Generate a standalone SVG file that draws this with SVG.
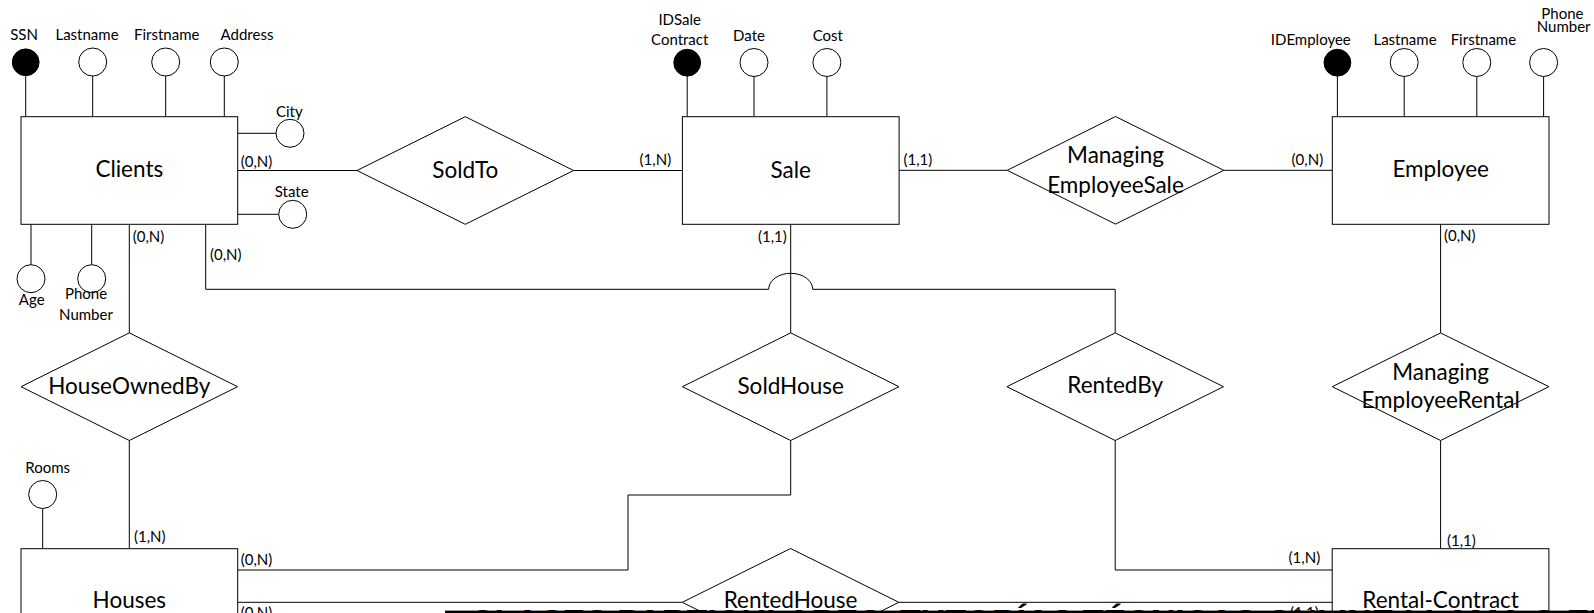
<svg xmlns="http://www.w3.org/2000/svg" width="1594" height="613" viewBox="0 0 1594 613">
<style>
  .ent{fill:#fff;stroke:#000;stroke-width:1}
  .rel{fill:#fff;stroke:#000;stroke-width:1}
  .att{fill:#fff;stroke:#000;stroke-width:1}
  .key{fill:#000;stroke:#000;stroke-width:1}
  .ln{fill:none;stroke:#000;stroke-width:1}
  .big{font-family:Lato,"Open Sans",sans-serif;font-size:22.5px;fill:#000;text-anchor:middle}
  .sm{font-family:Lato,"Open Sans",sans-serif;font-size:15px;fill:#000;text-anchor:middle}
  .card{font-family:Lato,"Open Sans",sans-serif;font-size:15px;fill:#000}
  .wm{font-family:"Liberation Sans",Arial,sans-serif;font-size:34px;font-weight:bold;fill:#000}
</style>
<rect x="0" y="0" width="1594" height="613" fill="#fff"/>

<g id="connectors">
  <line class="ln" x1="237.7" y1="170.5" x2="357" y2="170.5"/>
  <line class="ln" x1="573.6" y1="170.5" x2="682.4" y2="170.5"/>
  <line class="ln" x1="899" y1="170.3" x2="1007.2" y2="170.3"/>
  <line class="ln" x1="1223.8" y1="170.3" x2="1332.3" y2="170.3"/>
  <line class="ln" x1="129.3" y1="224.3" x2="129.3" y2="332.9"/>
  <line class="ln" x1="129.3" y1="440.5" x2="129.3" y2="548.7"/>
  <line class="ln" x1="790.7" y1="224.3" x2="790.7" y2="332.9"/>
  <path class="ln" d="M205.7,224.3 V289.3 H768.7 A22,16 0 0 1 812.7,289.3 H1115.2 V332.9"/>
  <line class="ln" x1="1440.6" y1="224.3" x2="1440.6" y2="332.9"/>
  <line class="ln" x1="1440.6" y1="440.5" x2="1440.6" y2="548.7"/>
  <path class="ln" d="M1115.2,440.5 V570 H1332.2"/>
  <path class="ln" d="M790.7,440.5 V495 H628 V570 H237.7"/>
  <line class="ln" x1="237.7" y1="602.3" x2="682.3" y2="602.3"/>
  <line class="ln" x1="898.9" y1="602.3" x2="1332.2" y2="602.3"/>
  <!-- attribute stems -->
  <line class="ln" x1="25.7" y1="75.7" x2="25.7" y2="116.7"/>
  <line class="ln" x1="92.7" y1="76" x2="92.7" y2="116.7"/>
  <line class="ln" x1="165.7" y1="76" x2="165.7" y2="116.7"/>
  <line class="ln" x1="224.3" y1="76" x2="224.3" y2="116.7"/>
  <line class="ln" x1="237.7" y1="133.3" x2="276" y2="133.3"/>
  <line class="ln" x1="237.7" y1="214.3" x2="278.7" y2="214.3"/>
  <line class="ln" x1="31" y1="224.3" x2="31" y2="264.7"/>
  <line class="ln" x1="91.7" y1="224.3" x2="91.7" y2="264.7"/>
  <line class="ln" x1="687.2" y1="76" x2="687.2" y2="116.7"/>
  <line class="ln" x1="754" y1="76.5" x2="754" y2="116.7"/>
  <line class="ln" x1="826.9" y1="76.5" x2="826.9" y2="116.7"/>
  <line class="ln" x1="1337.4" y1="76" x2="1337.4" y2="116.7"/>
  <line class="ln" x1="1404.2" y1="76.5" x2="1404.2" y2="116.7"/>
  <line class="ln" x1="1476.8" y1="76.5" x2="1476.8" y2="116.7"/>
  <line class="ln" x1="1543.6" y1="76.5" x2="1543.6" y2="116.7"/>
  <line class="ln" x1="42.7" y1="508.5" x2="42.7" y2="548.7"/>
</g>

<g id="clients">
  <rect class="ent" x="21" y="116.7" width="216.7" height="107.6"/>
  <text class="big" x="129.3" y="176.7">Clients</text>
  <circle class="key" cx="25.7" cy="62.3" r="13.4"/>
  <circle class="att" cx="92.7" cy="62" r="14"/>
  <circle class="att" cx="165.7" cy="62" r="14"/>
  <circle class="att" cx="224.3" cy="62" r="14"/>
  <circle class="att" cx="290" cy="133.3" r="14"/>
  <circle class="att" cx="292.7" cy="214.3" r="14"/>
  <circle class="att" cx="31" cy="278.7" r="14"/>
  <circle class="att" cx="91.7" cy="278.7" r="14"/>
  <text class="sm" x="24" y="40">SSN</text>
  <text class="sm" x="87" y="40">Lastname</text>
  <text class="sm" x="166.7" y="40">Firstname</text>
  <text class="sm" x="247" y="40">Address</text>
  <text class="sm" x="289.3" y="117.3">City</text>
  <text class="sm" x="291.7" y="196.7">State</text>
  <text class="sm" x="31.7" y="305">Age</text>
  <text class="sm" x="86" y="299.3">Phone</text>
  <text class="sm" x="86" y="320">Number</text>
</g>

<g id="soldto">
  <polygon class="rel" points="357,170.5 465.3,116.7 573.6,170.5 465.3,224.3"/>
  <text class="big" x="465.3" y="178">SoldTo</text>
</g>

<g id="sale">
  <rect class="ent" x="682.4" y="116.7" width="216.7" height="107.6"/>
  <text class="big" x="790.7" y="178">Sale</text>
  <circle class="key" cx="687.2" cy="62.7" r="13.4"/>
  <circle class="att" cx="754" cy="62.5" r="14"/>
  <circle class="att" cx="826.9" cy="62.5" r="14"/>
  <text class="sm" x="679.7" y="25">IDSale</text>
  <text class="sm" x="679.7" y="45">Contract</text>
  <text class="sm" x="749" y="40.7">Date</text>
  <text class="sm" x="827.8" y="40.7">Cost</text>
</g>

<g id="managing-employee-sale">
  <polygon class="rel" points="1007.2,170.3 1115.5,116.5 1223.8,170.3 1115.5,224.1"/>
  <text class="big" x="1115.5" y="163.3">Managing</text>
  <text class="big" x="1115.5" y="193.3">EmployeeSale</text>
</g>

<g id="employee">
  <rect class="ent" x="1332.3" y="116.7" width="216.7" height="107.6"/>
  <text class="big" x="1440.7" y="176.7">Employee</text>
  <circle class="key" cx="1337.4" cy="62.7" r="13.4"/>
  <circle class="att" cx="1404.2" cy="62.5" r="14"/>
  <circle class="att" cx="1476.8" cy="62.5" r="14"/>
  <circle class="att" cx="1543.6" cy="62.5" r="14"/>
  <text class="sm" x="1310.8" y="45">IDEmployee</text>
  <text class="sm" x="1405" y="45">Lastname</text>
  <text class="sm" x="1483.4" y="45">Firstname</text>
  <text class="sm" x="1562.4" y="19.3">Phone</text>
  <text class="sm" x="1563.7" y="31.7">Number</text>
</g>

<g id="houseownedby">
  <polygon class="rel" points="21,386.7 129.3,332.9 237.6,386.7 129.3,440.5"/>
  <text class="big" x="129.3" y="394">HouseOwnedBy</text>
</g>

<g id="soldhouse">
  <polygon class="rel" points="682.4,386.7 790.7,332.9 899,386.7 790.7,440.5"/>
  <text class="big" x="790.7" y="394">SoldHouse</text>
</g>

<g id="rentedby">
  <polygon class="rel" points="1006.9,386.7 1115.2,332.9 1223.5,386.7 1115.2,440.5"/>
  <text class="big" x="1115.2" y="393.3">RentedBy</text>
</g>

<g id="managing-employee-rental">
  <polygon class="rel" points="1332.3,386.7 1440.6,332.9 1548.9,386.7 1440.6,440.5"/>
  <text class="big" x="1440.6" y="380">Managing</text>
  <text class="big" x="1440.6" y="408.3">EmployeeRental</text>
</g>

<g id="houses">
  <rect class="ent" x="21" y="548.7" width="216.7" height="107.6"/>
  <text class="big" x="129.3" y="608.3">Houses</text>
  <circle class="att" cx="42.7" cy="494.5" r="14"/>
  <text class="sm" x="47.7" y="472.7">Rooms</text>
</g>

<g id="rentedhouse">
  <polygon class="rel" points="682.3,602.3 790.6,548.5 898.9,602.3 790.6,656.1"/>
  <text class="big" x="790.6" y="608.3">RentedHouse</text>
</g>

<g id="rental-contract">
  <rect fill="none" stroke="#000" stroke-width="1" x="1332.2" y="548.7" width="216.7" height="107.6"/>
  <text class="big" x="1440.6" y="608.3">Rental-Contract</text>
</g>

<g id="cardinalities">
  <text class="card" x="240.7" y="166.7">(0,N)</text>
  <text class="card" x="132.7" y="241.7">(0,N)</text>
  <text class="card" x="210" y="260">(0,N)</text>
  <text class="card" x="639.6" y="165">(1,N)</text>
  <text class="card" x="758" y="241.7">(1,1)</text>
  <text class="card" x="903.5" y="165">(1,1)</text>
  <text class="card" x="1291.6" y="165">(0,N)</text>
  <text class="card" x="1444" y="240.7">(0,N)</text>
  <text class="card" x="134" y="541.7">(1,N)</text>
  <text class="card" x="240.7" y="565">(0,N)</text>
  <text class="card" x="240.7" y="618">(0,N)</text>
  <text class="card" x="1288.6" y="563.3">(1,N)</text>
  <text class="card" x="1447" y="545.7">(1,1)</text>
  <text class="card" x="1290" y="617.5">(1,1)</text>
</g>

<g id="watermark">
  <rect x="445" y="610.6" width="1149" height="2.4" fill="#000"/>
  <text class="wm" x="470" y="633">CLASES PARTICULARES, TUTORÍAS TÉCNICAS ONLINE LLAMA O ENVÍA WHATSAPP</text>
</g>
</svg>
